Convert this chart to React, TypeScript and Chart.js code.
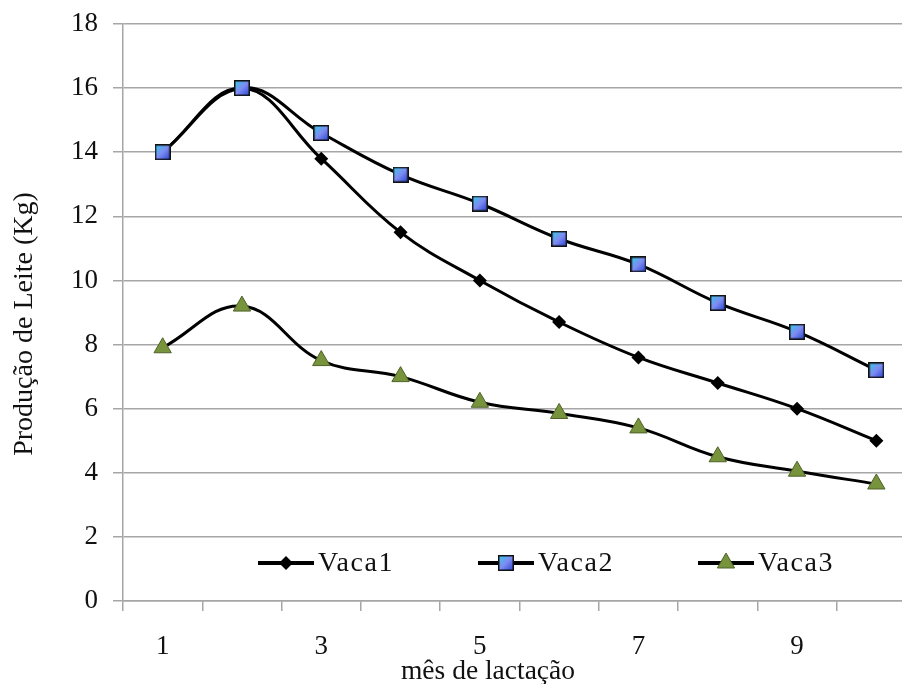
import React, { useEffect, useRef } from "react";
import { Chart, registerables } from "chart.js";

Chart.register(...registerables);

const months = ["1", "2", "3", "4", "5", "6", "7", "8", "9", "10"];
const vaca1 = [14, 16, 13.8, 11.5, 10.0, 8.7, 7.6, 6.8, 6.0, 5.0];
const vaca2 = [14, 16, 14.6, 13.3, 12.4, 11.3, 10.5, 9.3, 8.4, 7.2];
const vaca3 = [7.9, 9.2, 7.5, 7.0, 6.2, 5.85, 5.4, 4.5, 4.05, 3.65];
const seriesNames = ["Vaca1", "Vaca2", "Vaca3"];
const yTicks = [0, 2, 4, 6, 8, 10, 12, 14, 16, 18];

const FONT = "'Liberation Serif', 'Times New Roman', serif";
const GRID = "#a6a6a6";
const GREEN = "#77933C";
const GREEN_DARK = "#4F6228";

function makeSquare(size: number): HTMLCanvasElement {
  const c = document.createElement("canvas");
  c.width = size;
  c.height = size;
  const ctx = c.getContext("2d")!;
  const g = ctx.createLinearGradient(0, 0, size, size);
  g.addColorStop(0, "#2fd0e8");
  g.addColorStop(0.5, "#7f8cf2");
  g.addColorStop(1, "#1f3fd0");
  ctx.fillStyle = g;
  ctx.fillRect(1, 1, size - 2, size - 2);
  ctx.strokeStyle = "#111";
  ctx.lineWidth = 1.5;
  ctx.strokeRect(0.75, 0.75, size - 1.5, size - 1.5);
  return c;
}

export default function App() {
  const ref = useRef<HTMLCanvasElement | null>(null);

  useEffect(() => {
    if (!ref.current) return;
    const square = makeSquare(16);

    const drawMarker = (ctx: CanvasRenderingContext2D, idx: number, x: number, y: number) => {
      ctx.save();
      if (idx === 0) {
        const r = 7;
        ctx.beginPath();
        ctx.moveTo(x, y - r);
        ctx.lineTo(x + r, y);
        ctx.lineTo(x, y + r);
        ctx.lineTo(x - r, y);
        ctx.closePath();
        ctx.fillStyle = "#000";
        ctx.fill();
      } else if (idx === 1) {
        ctx.drawImage(square, x - 8, y - 8);
      } else {
        const r = 10;
        ctx.beginPath();
        ctx.moveTo(x, y - r);
        ctx.lineTo(x + r * 0.866, y + r / 2);
        ctx.lineTo(x - r * 0.866, y + r / 2);
        ctx.closePath();
        ctx.fillStyle = GREEN;
        ctx.fill();
        ctx.strokeStyle = GREEN_DARK;
        ctx.lineWidth = 1;
        ctx.stroke();
      }
      ctx.restore();
    };

    const extras = {
      id: "extras",
      afterDraw(chart: any) {
        const ctx: CanvasRenderingContext2D = chart.ctx;
        ctx.save();
        // legend
        const starts = [258, 478, 698];
        const ly = 563;
        ctx.font = `28px ${FONT}`;
        ctx.textBaseline = "middle";
        ctx.textAlign = "left";
        (ctx as any).letterSpacing = "1.5px";
        seriesNames.forEach((name, i) => {
          const x0 = starts[i];
          ctx.beginPath();
          ctx.moveTo(x0, ly);
          ctx.lineTo(x0 + 56, ly);
          ctx.strokeStyle = "#000";
          ctx.lineWidth = 4;
          ctx.stroke();
          drawMarker(ctx, i, x0 + 28, ly);
          ctx.fillStyle = "#111";
          ctx.fillText(name, x0 + 60, ly + 1);
        });
        (ctx as any).letterSpacing = "0px";
        // axis titles
        ctx.fillStyle = "#111";
        ctx.font = `27.5px ${FONT}`;
        ctx.textAlign = "center";
        ctx.textBaseline = "alphabetic";
        ctx.fillText("mês de lactação", 488, 679);
        ctx.font = `28px ${FONT}`;
        ctx.translate(32, 324);
        ctx.rotate(-Math.PI / 2);
        ctx.fillText("Produção de Leite (Kg)", 0, 0);
        ctx.restore();
      },
    };

    const chart = new Chart(ref.current, {
      type: "line",
      data: {
        labels: months,
        datasets: [
          {
            label: seriesNames[0],
            data: vaca1,
            borderColor: "#000",
            borderWidth: 3,
            tension: 0.4,
            pointStyle: "rectRot",
            pointRadius: 7,
            pointBackgroundColor: "#000",
            pointBorderColor: "#000",
            pointBorderWidth: 0,
            order: 1,
          },
          {
            label: seriesNames[1],
            data: vaca2,
            borderColor: "#000",
            borderWidth: 3,
            tension: 0.4,
            pointStyle: square,
            pointRadius: 8,
            order: 0,
          },
          {
            label: seriesNames[2],
            data: vaca3,
            borderColor: "#000",
            borderWidth: 3,
            tension: 0.4,
            pointStyle: "triangle",
            pointRadius: 10,
            pointBackgroundColor: GREEN,
            pointBorderColor: GREEN_DARK,
            pointBorderWidth: 1,
            order: 2,
          },
        ],
      },
      options: {
        animation: false,
        responsive: true,
        maintainAspectRatio: false,
        layout: { padding: { top: 24, right: 2, left: 0, bottom: 0 } },
        plugins: {
          legend: { display: false },
          tooltip: { enabled: false },
        },
        scales: {
          x: {
            type: "category",
            offset: true,
            afterFit: (s: any) => {
              s.height = 83;
              s.paddingLeft = 0;
              s.paddingRight = 0;
            },
            grid: {
              offset: true,
              drawOnChartArea: false,
              drawTicks: true,
              tickLength: 10,
              color: GRID,
              lineWidth: 1.5,
            },
            border: { display: true, color: GRID, width: 1.5 },
            ticks: {
              autoSkip: false,
              maxRotation: 0,
              padding: 20,
              color: "#111",
              font: { family: FONT, size: 27 },
              callback: (_v: any, i: number) => (i % 2 === 0 ? months[i] : ""),
            },
          },
          y: {
            min: 0,
            max: 18,
            afterFit: (s: any) => {
              s.width = 123;
              s.paddingTop = 0;
              s.paddingBottom = 0;
            },
            afterBuildTicks: (s: any) => {
              s.ticks = yTicks.map((v) => ({ value: v }));
            },
            grid: {
              color: GRID,
              lineWidth: 1.5,
              tickLength: 10,
              drawTicks: true,
            },
            border: { display: true, color: GRID, width: 1.5 },
            ticks: {
              padding: 15,
              color: "#111",
              font: { family: FONT, size: 27 },
            },
          },
        },
      },
      plugins: [extras],
    } as any);
    return () => chart.destroy();
  }, []);

  return (
    <div
      style={{
        position: "fixed",
        left: 0,
        top: 0,
        width: 902,
        height: 684,
        overflow: "hidden",
        background: "#fff",
      }}
    >
      <div style={{ position: "relative", width: 927, height: 684 }}>
        <canvas ref={ref} />
      </div>
    </div>
  );
}
